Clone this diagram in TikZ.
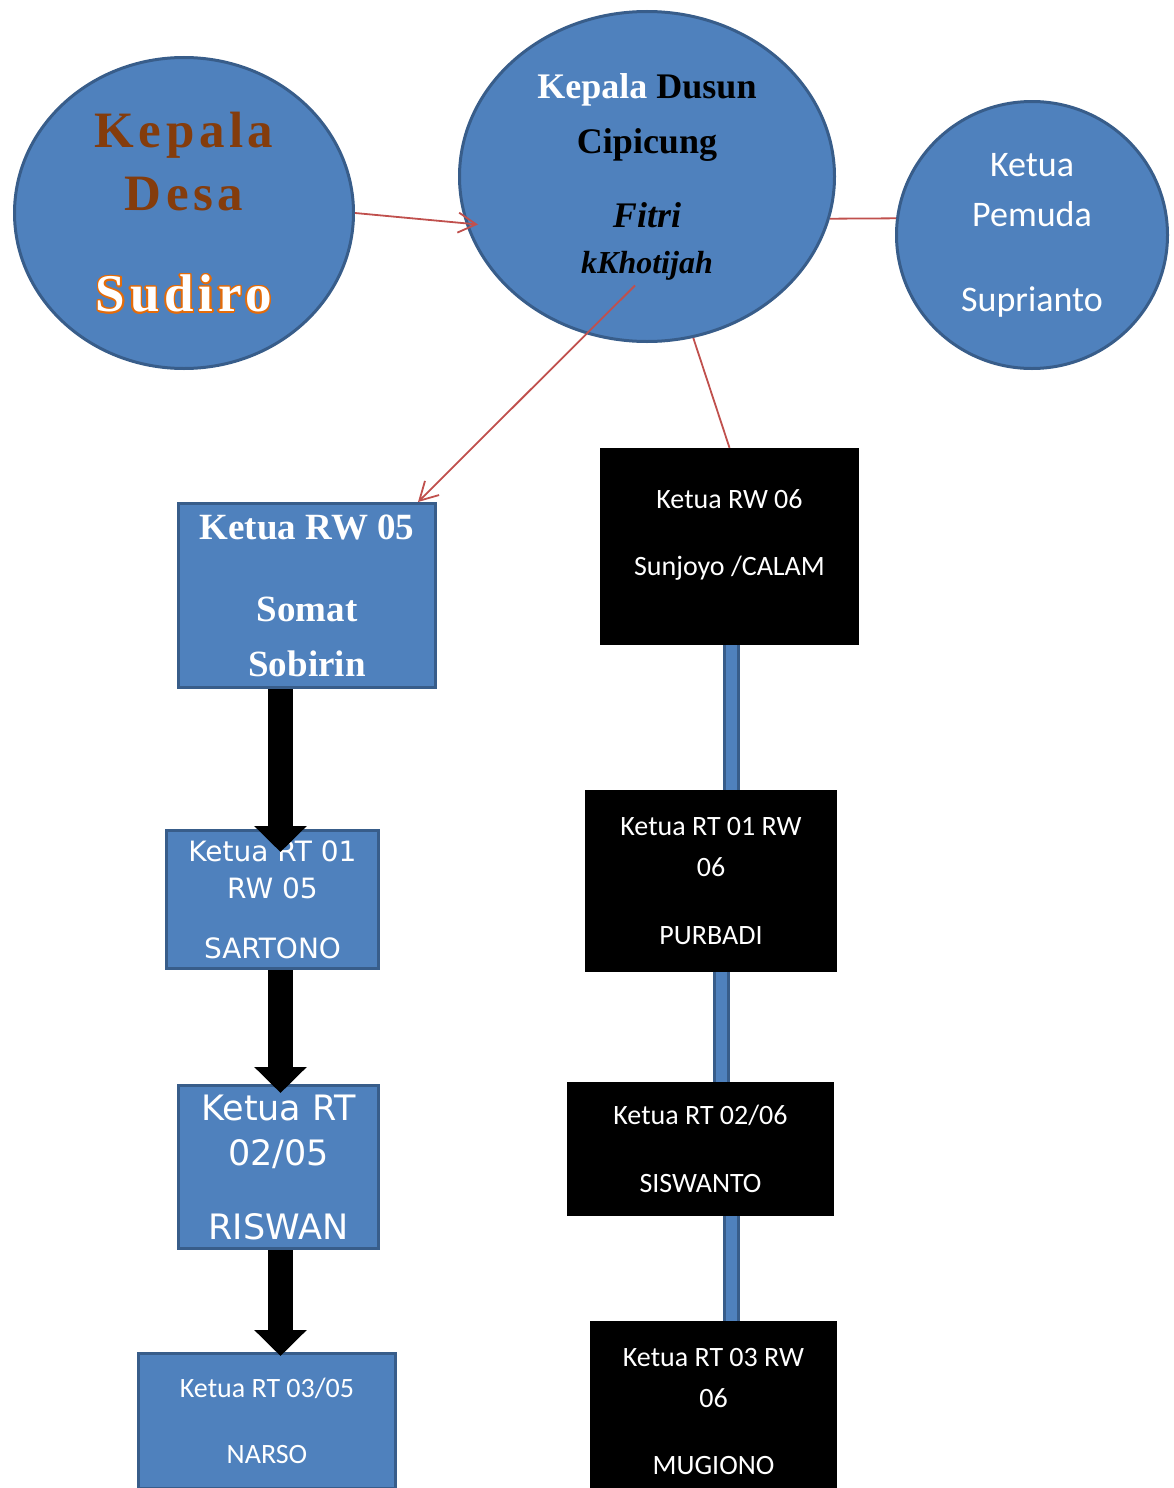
\documentclass[tikz,border=0pt]{standalone}
\usepackage{fontspec}
\setmainfont{Liberation Serif}
\newfontfamily\calfont{Carlito}
\newfontfamily\verfont{DejaVu Sans}
\newfontfamily\widefont[LetterSpace=9]{Liberation Serif}
\usepackage{contour}
\contourlength{1.5pt}
\usetikzlibrary{shapes.geometric,arrows.meta}
\definecolor{boxblue}{HTML}{4F81BD}
\definecolor{edgeblue}{HTML}{385D8A}
\definecolor{linered}{HTML}{C0504D}
\definecolor{desabrown}{HTML}{843C0C}
\definecolor{glow}{HTML}{E46C0A}
\tikzstyle{bigcirc}=[ellipse,fill=boxblue,draw=edgeblue,line width=3pt,inner sep=0pt,align=center]
\tikzstyle{bluebox}=[rectangle,fill=boxblue,draw=edgeblue,line width=3pt,inner sep=0pt,align=center,text=white]
\tikzstyle{blackbox}=[rectangle,fill=black,inner sep=0pt,align=center,text=white,font=\calfont\fontsize{28}{41}\selectfont]
\tikzstyle{redline}=[draw=linered,line width=1.8pt]
\tikzstyle{fatarrow}=[line width=25pt,-{Triangle[width=51pt,length=26pt]}]
\tikzstyle{bluelink}=[draw=edgeblue,line width=3pt,double=boxblue,double distance=11pt]
\begin{document}
\begin{tikzpicture}[x=1pt,y=-1pt]
\useasboundingbox (0,0) rectangle (1174,1488);

\node (desa) at (184,213) [bigcirc,minimum width=339pt,minimum height=311pt,text=desabrown,font=\widefont\bfseries\fontsize{51}{63}\selectfont]
  {Kepala\\Desa\\[38pt]{\fontsize{53}{63}\selectfont\color{white}\contour{glow}{Sudiro}}};
\node (dusun) at (647,176.5) [bigcirc,minimum width=375pt,minimum height=330pt,font=\bfseries\fontsize{36}{55}\selectfont]
  {\textcolor{white}{Kepala} Dusun\\Cipicung\\[19pt]\textit{Fitri}\\[-9pt]{\fontsize{32}{46}\selectfont\textit{kKhotijah}}};
\node (pemuda) at (1032,235) [bigcirc,minimum width=271pt,minimum height=267pt,text=white,font=\calfont\fontsize{36}{50}\selectfont]
  {Ketua\\Pemuda\\[35pt]Suprianto};

\node (rw05) at (307,595.5) [bluebox,minimum width=257pt,minimum height=184pt,font=\bfseries\fontsize{37}{55}\selectfont]
  {Ketua RW 05\\[27pt]Somat\\Sobirin};
\node (rt0105) at (272.5,899.5) [bluebox,minimum width=212pt,minimum height=138pt,font=\verfont\fontsize{28}{37}\selectfont]
  {Ketua RT 01\\RW 05\\[23pt]SARTONO};
\node (rt0205) at (278.5,1167) [bluebox,minimum width=200pt,minimum height=163pt,font=\verfont\fontsize{35}{45}\selectfont]
  {Ketua RT\\02/05\\[29pt]RISWAN};
\node (rt0305) at (267,1421) [bluebox,minimum width=257pt,minimum height=135pt,font=\calfont\fontsize{28}{66}\selectfont]
  {Ketua RT 03/05\\NARSO};

\node (rw06) at (729.5,546.5) [blackbox,minimum width=259pt,minimum height=197pt,font=\calfont\fontsize{28}{67}\selectfont]
  {Ketua RW 06\\Sunjoyo /CALAM\\[-39pt]\mbox{}};
\node (rt0106) at (711,881) [blackbox,minimum width=252pt,minimum height=182pt]
  {Ketua RT 01 RW\\06\\[27pt]PURBADI};
\node (rt0206) at (700.5,1149) [blackbox,minimum width=267pt,minimum height=134pt,font=\calfont\fontsize{28}{68}\selectfont]
  {Ketua RT 02/06\\SISWANTO};
\node (rt0306) at (713.5,1411) [blackbox,minimum width=247pt,minimum height=180pt]
  {Ketua RT 03 RW\\06\\[26pt]MUGIONO};

\draw[redline,-{Straight Barb[length=18pt,width=20pt]}] (desa.east) -- ([shift={(20,48)}]dusun.west);
\draw[redline] (dusun.-13) -- (pemuda.173);
\draw[redline,-{Straight Barb[length=18pt,width=20pt]}] ([shift={(-12,109)}]dusun.center) -- ([xshift=-19pt]rw05.north east);
\draw[redline] (dusun.-74) -- (rw06.north);

\draw[fatarrow,shorten >=-23pt] ([xshift=2pt]rw05.south -| rt0205.north) -- ([xshift=2pt]rt0105.north -| rt0205.north);
\draw[fatarrow,shorten >=-9pt] ([xshift=2pt]rt0105.south -| rt0205.north) -- ([xshift=2pt]rt0205.north);
\draw[fatarrow,shorten >=-4pt] ([xshift=2pt]rt0205.south) -- ([xshift=2pt]rt0305.north -| rt0205.south);

\draw[bluelink] ([xshift=2pt]rw06.south) -- ([xshift=2pt]rw06.south |- rt0106.north);
\draw[bluelink] ([xshift=10pt]rt0106.south) -- ([xshift=10pt]rt0106.south |- rt0206.north);
\draw[bluelink] ([xshift=2pt]rt0206.south -| rw06.south) -- ([xshift=2pt]rt0306.north -| rw06.south);
\end{tikzpicture}
\end{document}
